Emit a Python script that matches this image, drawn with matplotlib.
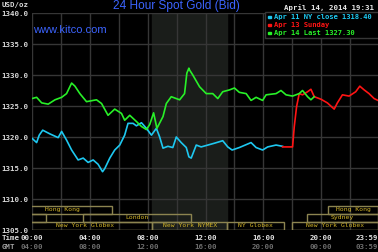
import numpy as np
import matplotlib
matplotlib.use("Agg")
import matplotlib.pyplot as plt
import matplotlib.transforms as mtransforms
from matplotlib.patches import Rectangle

# hours after midnight (NY time) and bid price
apr14_t = [0.0, 0.32, 0.67, 1.12, 1.59, 2.05, 2.39, 2.74, 2.97, 3.31, 3.77, 4.46, 4.81,
           5.26, 5.72, 6.19, 6.41, 6.76, 7.22, 7.57, 7.91, 8.14, 8.41, 8.64, 9.06, 9.29,
           9.63, 10.21, 10.55, 10.71, 10.85, 10.9, 11.12, 11.59, 12.05, 12.5, 12.85, 13.19,
           13.66, 14.0, 14.34, 14.81, 15.15, 15.5, 15.95, 16.19, 16.88, 17.22, 17.57, 18.02,
           18.48, 18.71, 19.06, 19.29, 19.52]
apr14_p = [1326.2, 1326.4, 1325.5, 1325.3, 1326.0, 1326.4, 1327.0, 1328.7, 1328.2, 1327.0,
           1325.7, 1326.0, 1325.4, 1323.5, 1324.5, 1323.8, 1322.7, 1323.5, 1322.5, 1321.7,
           1321.2, 1322.0, 1323.9, 1321.4, 1323.3, 1325.4, 1326.5, 1326.0, 1327.0, 1330.3,
           1331.1, 1330.8, 1330.0, 1328.1, 1327.0, 1327.0, 1326.2, 1327.3, 1327.6, 1327.9,
           1327.2, 1327.0, 1325.9, 1326.4, 1325.9, 1326.8, 1327.0, 1327.5, 1326.8, 1326.6,
           1327.0, 1327.5, 1326.5, 1326.0, 1326.5]

apr11_t = [0.0, 0.32, 0.5, 0.74, 1.24, 1.81, 2.05, 2.39, 2.74, 3.19, 3.54, 3.88, 4.23, 4.57,
           4.88, 5.03, 5.38, 5.72, 6.07, 6.41, 6.64, 6.99, 7.22, 7.57, 7.91, 8.26, 8.6, 8.83,
           9.06, 9.4, 9.74, 9.98, 10.32, 10.67, 10.85, 11.01, 11.36, 11.7, 12.16, 12.62,
           13.19, 13.54, 13.84, 14.34, 15.15, 15.5, 15.95, 16.3, 16.88, 17.33]
apr11_p = [1319.8, 1319.1, 1320.3, 1321.1, 1320.5, 1319.9, 1320.9, 1319.5, 1317.9, 1316.3,
           1316.6, 1315.9, 1316.3, 1315.6, 1314.4, 1314.9, 1316.6, 1317.9, 1318.7, 1320.3,
           1322.2, 1322.2, 1321.8, 1322.3, 1321.4, 1320.3, 1321.4, 1320.0, 1318.2, 1318.5,
           1318.3, 1320.0, 1319.1, 1318.3, 1316.8, 1316.6, 1318.7, 1318.4, 1318.7, 1319.0,
           1319.4, 1318.4, 1317.9, 1318.3, 1319.1, 1318.3, 1317.9, 1318.4, 1318.7, 1318.5]

apr13_t = [17.33, 18.02, 18.14, 18.3, 18.48, 18.71, 19.06, 19.29, 19.52, 19.98, 20.43, 20.9,
           21.12, 21.47, 21.93, 22.39, 22.67, 22.97, 23.31, 23.66, 23.93]
apr13_p = [1318.4, 1318.4, 1321.7, 1324.9, 1327.0, 1326.8, 1327.3, 1327.7, 1326.5, 1326.1,
           1325.5, 1324.5, 1325.5, 1326.8, 1326.6, 1327.3, 1328.2, 1327.6, 1327.0, 1326.2,
           1325.9]

legend_labels = ["Apr 11 NY close 1318.40", "Apr 13 Sunday", "Apr 14 Last 1327.30"]
y_ticks = [1305, 1310, 1315, 1320, 1325, 1330, 1335, 1340]
time_labels = ["00:00", "04:00", "08:00", "12:00", "16:00", "20:00", "23:59"]
gmt_labels = ["04:00", "08:00", "12:00", "16:00", "20:00", "00:00", "03:59"]
time_pos = [0, 4, 8, 12, 16, 20, 23.93]

# (row, start, end, name) row 0 = bottom; some sessions began the day before
sessions = [(2, -1.3, 5.55, "Hong Kong"), (1, -3.0, 1.0, ""), (1, 3.5, 11.0, "London"),
            (0, -1.0, 8.33, "New York Globex"), (0, 8.33, 13.5, "New York NYMEX"),
            (0, 13.5, 17.4, "NY Globex"), (0, 18.0, 23.93, "New York Globex"),
            (1, 19.0, 23.93, "Sydney"), (2, 20.5, 23.93, "Hong Kong")]

cyan = "#1ec8f0"
red = "#ff1414"
green = "#28f028"
grid_c = "#363636"
gold_txt = "#d2b428"
gold_box = "#8c8450"
mono = "DejaVu Sans Mono"

fig = plt.figure(figsize=(3.78, 2.52), dpi=100, facecolor="black")
ax = fig.add_axes([32 / 378, 22 / 252, 346 / 378, 217 / 252], facecolor="black")
ax.set_xlim(0, 23.93)
ax.set_ylim(1305, 1340)

ax.axvspan(8.33, 13.5, color="#1a1d1a", zorder=0)

ax.set_xticks(np.arange(0, 24, 2))
ax.set_xticklabels([])
ax.set_yticks(y_ticks)
ax.set_yticklabels(["%.1f" % v for v in y_ticks], family=mono, fontsize=5.3,
                   color="#d8d8d8", fontweight="bold")
ax.tick_params(length=0, pad=3)
ax.grid(True, color=grid_c, linewidth=1)
for s in ax.spines.values():
    s.set_visible(False)

ax.plot(apr11_t, apr11_p, color=cyan, lw=1.2, zorder=3)
ax.plot(apr13_t, apr13_p, color=red, lw=1.2, zorder=3)
ax.plot(apr14_t, apr14_p, color=green, lw=1.2, zorder=4)

# trading session boxes
trans = mtransforms.blended_transform_factory(ax.transData, ax.transAxes)
row_h = 0.0376
for row, a, b, name in sessions:
    ax.add_patch(Rectangle((a, row * row_h), b - a, row_h, transform=trans,
                           facecolor="none", edgecolor=gold_box, lw=1, zorder=5))
    if name:
        ax.text((a + b) / 2, row * row_h + row_h / 2, name, transform=trans,
                ha="center", va="center", fontsize=4.6, family=mono,
                color=gold_txt, zorder=6, clip_on=True)

# time axis labels
xtrans = mtransforms.blended_transform_factory(ax.transData, fig.transFigure)
for t, lab, g in zip(time_pos, time_labels, gmt_labels):
    ha = "right" if t > 23 else "center"
    ax.text(t, 14 / 252, lab, transform=xtrans, ha=ha, va="center",
            fontsize=5.3, family=mono, color="#e0e0e0", fontweight="bold")
    ax.text(t, 5 / 252, g, transform=xtrans, ha=ha, va="center",
            fontsize=5.3, family=mono, color="#6e6e6e", fontweight="bold")
fig.text(2 / 378, 14 / 252, "Time", fontsize=5.3, family=mono, color="#d8d8d8",
         va="center", fontweight="bold")
fig.text(2 / 378, 5 / 252, "GMT", fontsize=5.3, family=mono, color="#a0a0a0",
         va="center", fontweight="bold")

fig.text(2 / 378, 247 / 252, "USD/oz", fontsize=5.3, family=mono, color="#d8d8d8",
         va="center", fontweight="bold")
fig.text(176 / 378, 245.5 / 252, "24 Hour Spot Gold (Bid)", fontsize=8.6,
         family="Liberation Sans", color="#3c64ff", ha="center", va="center")
fig.text(33 / 378, 222 / 252, "www.kitco.com", fontsize=8.0,
         family="Liberation Sans", color="#3c64ff", va="center")
fig.text(374 / 378, 244.5 / 252, "April 14, 2014 19:31", fontsize=5.3, family=mono,
         color="#e8e8e8", ha="right", va="center", fontweight="bold")

# legend box
fig.patches.append(Rectangle((265 / 378, 214 / 252), 120 / 378, 26 / 252,
                             transform=fig.transFigure, facecolor="black",
                             edgecolor=grid_c, lw=1, zorder=5))
for i, (lab, c) in enumerate(zip(legend_labels, [cyan, red, green])):
    yy = (235 - 7.8 * i) / 252
    fig.patches.append(Rectangle((268 / 378, yy - 1 / 252), 3 / 378, 2 / 252,
                                 transform=fig.transFigure, color=c, zorder=6))
    fig.text(274 / 378, yy, lab, fontsize=5.1, family=mono, color=c,
             va="center", fontweight="bold", zorder=7)

fig.savefig("out.png", dpi=100, facecolor="black")
